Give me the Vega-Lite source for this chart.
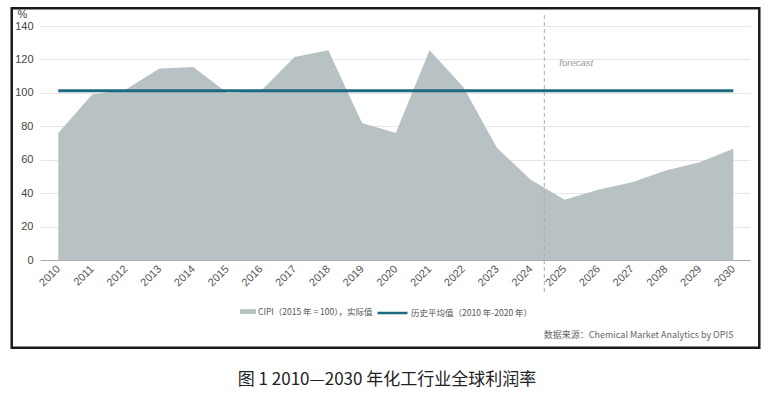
{
  "$schema": "https://vega.github.io/schema/vega-lite/v6.json",
  "width": 710,
  "height": 234,
  "autosize": {"type": "none"},
  "padding": {"left": 40, "top": 26, "right": 26, "bottom": 137},
  "background": "white",
  "config": {
    "view": {"stroke": null},
    "font": "Liberation Sans",
    "axis": {"labelOverlap": false, "labelFont": "Liberation Sans", "titleFont": "Liberation Sans", "labelBound": false},
    "legend": {"padding": 0, "labelFont": "Noto Sans CJK SC", "labelFontSize": 8.5, "labelColor": "#555", "labelOffset": 2}
  },
  "title": {
    "text": "图 1  2010—2030 年化工行业全球利润率",
    "orient": "bottom",
    "anchor": "middle",
    "frame": "group",
    "dx": -8,
    "font": "Noto Sans CJK SC",
    "fontSize": 17,
    "fontWeight": "normal",
    "color": "#222",
    "offset": 23
  },
  "datasets": {
    "cipi": [
      {"year": 2010, "value": 76},
      {"year": 2011, "value": 99},
      {"year": 2012, "value": 102},
      {"year": 2013, "value": 114.5},
      {"year": 2014, "value": 115.5},
      {"year": 2015, "value": 100},
      {"year": 2016, "value": 101},
      {"year": 2017, "value": 121.5},
      {"year": 2018, "value": 125.5},
      {"year": 2019, "value": 82},
      {"year": 2020, "value": 76},
      {"year": 2021, "value": 125.5},
      {"year": 2022, "value": 103.5},
      {"year": 2023, "value": 67},
      {"year": 2024, "value": 48},
      {"year": 2025, "value": 36},
      {"year": 2026, "value": 42},
      {"year": 2027, "value": 46.5},
      {"year": 2028, "value": 53.5},
      {"year": 2029, "value": 58.5},
      {"year": 2030, "value": 66.5}
    ],
    "average": [
      {"start": 2010, "end": 2030, "value": 101.3}
    ],
    "forecast": [
      {"split": 2024.4, "label": "forecast"}
    ]
  },
  "layer": [
    {
      "data": {"name": "cipi"},
      "mark": {"type": "area", "opacity": 1},
      "encoding": {
        "x": {
          "field": "year",
          "type": "quantitative",
          "scale": {"domain": [2009.458, 2030.495], "nice": false, "zero": false},
          "axis": {
            "values": [2010, 2011, 2012, 2013, 2014, 2015, 2016, 2017, 2018, 2019, 2020, 2021, 2022, 2023, 2024, 2025, 2026, 2027, 2028, 2029, 2030],
            "tickCount": 40,
            "format": "d",
            "labelAngle": -45,
            "labelAlign": "right",
            "labelBaseline": "middle",
            "labelPadding": 7,
            "labelFontSize": 11,
            "labelColor": "#555",
            "labelFlush": false,
            "labelOverlap": false,
            "ticks": false,
            "grid": false,
            "domainColor": "#aaa",
            "domainWidth": 1,
            "title": "数据来源：Chemical Market Analytics by OPIS",
            "titleFont": "Noto Sans CJK SC",
            "titleFontSize": 9,
            "titleFontWeight": "normal",
            "titleColor": "#666",
            "titleAlign": "right",
            "titleAnchor": "end",
            "titleBaseline": "middle",
            "titleX": 693,
            "titleY": 74
          }
        },
        "y": {
          "field": "value",
          "type": "quantitative",
          "scale": {"domain": [0, 140], "nice": false},
          "axis": {
            "values": [0, 20, 40, 60, 80, 100, 120, 140],
            "tickCount": 20,
            "domain": false,
            "ticks": false,
            "labelOverlap": false,
            "labelPadding": 7,
            "labelFontSize": 11,
            "labelColor": "#444",
            "gridColor": "#e6e6e6",
            "gridWidth": 1,
            "title": "%",
            "titleAngle": 0,
            "titleAlign": "center",
            "titleBaseline": "middle",
            "titleX": -18,
            "titleY": -12,
            "titleFontSize": 11,
            "titleFontWeight": "normal",
            "titleColor": "#444"
          }
        },
        "fill": {
          "datum": "CIPI（2015 年 = 100），实际值",
          "scale": {"range": ["#b8c1c3"]},
          "legend": {
            "title": null,
            "orient": "none",
            "legendX": 200,
            "legendY": 277.5,
            "symbolType": "M-1,-0.3H1V0.3H-1Z",
            "symbolSize": 256,
            "symbolStrokeWidth": 0
          }
        }
      }
    },
    {
      "data": {"name": "average"},
      "mark": {"type": "rule", "strokeWidth": 3},
      "encoding": {
        "x": {"field": "start", "type": "quantitative"},
        "x2": {"field": "end"},
        "y": {"field": "value", "type": "quantitative"},
        "stroke": {
          "datum": "历史平均值（2010 年-2020 年）",
          "scale": {"range": ["#1d6a80"]},
          "legend": {
            "title": null,
            "orient": "none",
            "legendX": 336,
            "legendY": 270.5,
            "symbolType": "stroke",
            "symbolSize": 900,
            "symbolStrokeWidth": 2.5
          }
        }
      }
    },
    {
      "data": {"name": "forecast"},
      "mark": {"type": "rule", "color": "#aaaaaa", "strokeWidth": 1, "strokeDash": [4, 3]},
      "encoding": {
        "x": {"field": "split", "type": "quantitative"},
        "y": {"datum": 146.6, "type": "quantitative"},
        "y2": {"datum": -19.7}
      }
    },
    {
      "data": {"name": "forecast"},
      "mark": {"type": "text", "align": "left", "baseline": "middle", "fontStyle": "italic", "fontSize": 9.5, "color": "#999", "dx": 15},
      "encoding": {
        "x": {"field": "split", "type": "quantitative"},
        "y": {"datum": 118, "type": "quantitative"},
        "text": {"field": "label"}
      }
    },
    {
      "data": {"values": [{"frame": "frame"}]},
      "mark": {"type": "rect", "fill": null, "stroke": "#1a1a1a", "strokeWidth": 2.5},
      "encoding": {
        "x": {"datum": 2008.62, "type": "quantitative"},
        "x2": {"datum": 2030.77},
        "y": {"datum": 150.59, "type": "quantitative"},
        "y2": {"datum": -52.47}
      }
    }
  ]
}
